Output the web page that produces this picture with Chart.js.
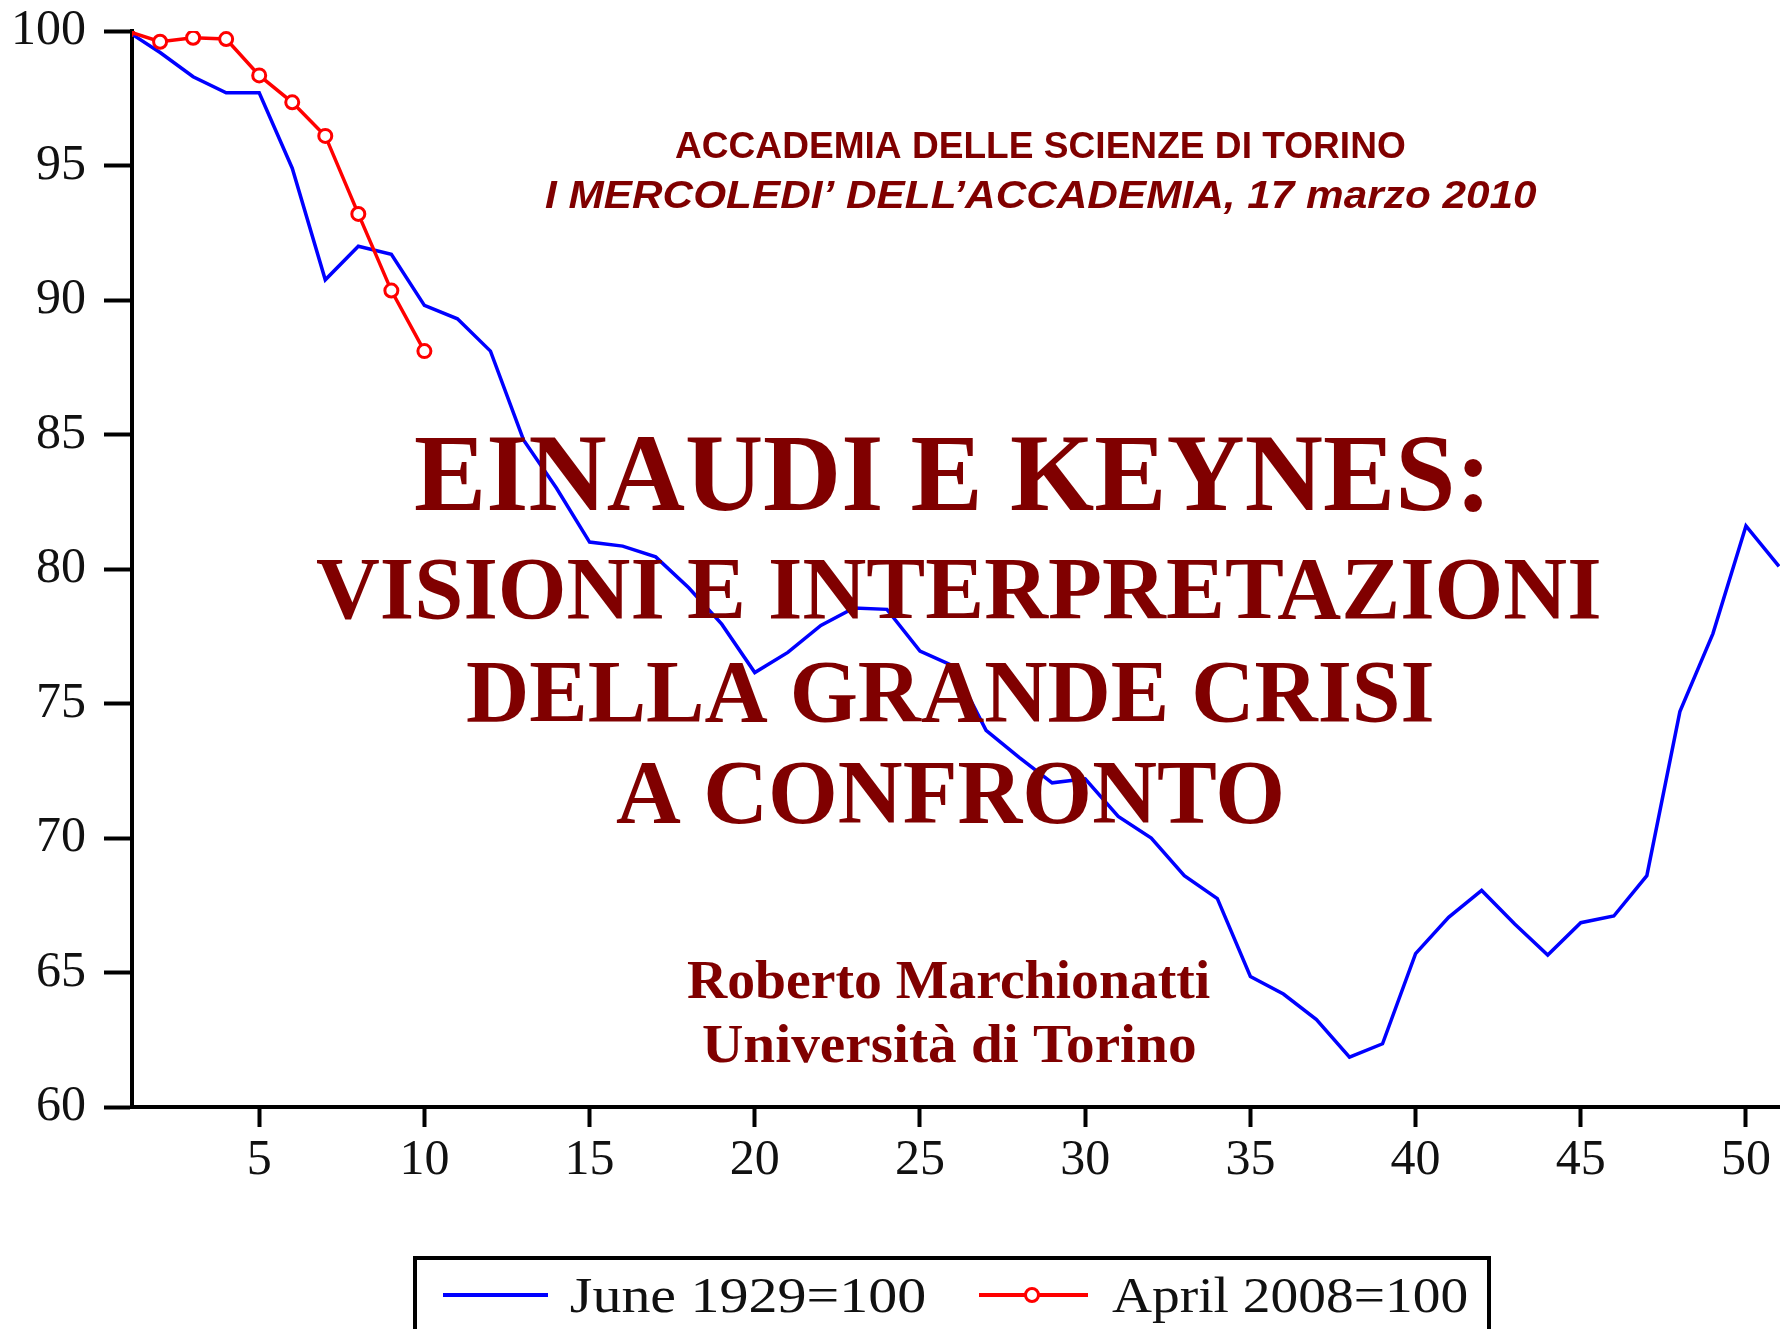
<!DOCTYPE html>
<html>
<head>
<meta charset="utf-8">
<title>Einaudi e Keynes</title>
<script src="https://cdn.jsdelivr.net/npm/chart.js@4.4.1/dist/chart.umd.min.js"></script>
<style>
  html, body { margin: 0; padding: 0; background: #fff; }
  #chart { display: block; }
</style>
</head>
<body>
<canvas id="chart" width="1780" height="1329"></canvas>
<script>
// mesi dal picco
const months = [1, 2, 3, 4, 5, 6, 7, 8, 9, 10, 11, 12, 13, 14, 15, 16, 17, 18, 19, 20,
    21, 22, 23, 24, 25, 26, 27, 28, 29, 30, 31, 32, 33, 34, 35, 36, 37, 38, 39, 40,
    41, 42, 43, 44, 45, 46, 47, 48, 49, 50, 51];
const june1929 = [100, 99.2, 98.3, 97.7, 97.7, 94.9, 90.75, 92.0, 91.7, 89.8,
    89.3, 88.1, 84.8, 83.0, 81.0, 80.85, 80.45, 79.3, 77.95, 76.15,
    76.9, 77.9, 78.55, 78.5, 76.95, 76.4, 74.0, 73.0, 72.05, 72.2,
    70.8, 70.0, 68.6, 67.75, 64.85, 64.2, 63.25, 61.85, 62.35, 65.7,
    67.05, 68.05, 66.8, 65.65, 66.85, 67.1, 68.6, 74.7, 77.6, 81.6, 80.1];
const april2008 = [100, 99.6, 99.75, 99.7, 98.35, 97.35, 96.1, 93.2, 90.35, 88.1];
const xTicks = [5, 10, 15, 20, 25, 30, 35, 40, 45, 50];
const seriesLabels = ['June 1929=100', 'April 2008=100'];

const MAROON = '#800000';
const BLUE = '#0000ff';
const RED = '#ff0000';

// testo della diapositiva: left/right = estremi dell'inchiostro, base = linea di base
const slideText = [
    { text: 'ACCADEMIA DELLE SCIENZE DI TORINO', font: 'bold 37px "Liberation Sans"', left: 675, right: 1405, base: 158 },
    { text: 'I MERCOLEDI\u2019 DELL\u2019ACCADEMIA, 17 marzo 2010', font: 'italic bold 39px "Liberation Sans"', left: 545, right: 1537, base: 208 },
    { text: 'EINAUDI E KEYNES:', font: 'bold 110px "Liberation Serif"', left: 415, right: 1482, base: 510 },
    { text: 'VISIONI E INTERPRETAZIONI', font: 'bold 89px "Liberation Serif"', left: 317, right: 1599, base: 618 },
    { text: 'DELLA GRANDE CRISI', font: 'bold 89px "Liberation Serif"', left: 467, right: 1432, base: 721 },
    { text: 'A CONFRONTO', font: 'bold 90px "Liberation Serif"', left: 616, right: 1281, base: 823 },
    { text: 'Roberto Marchionatti', font: 'bold 55px "Liberation Serif"', left: 687, right: 1210, base: 998 },
    { text: 'Università di Torino', font: 'bold 55px "Liberation Serif"', left: 703, right: 1195, base: 1062 }
];

function fitText(ctx, t) {
    ctx.font = t.font;
    const m = ctx.measureText(t.text);
    const ink = m.actualBoundingBoxLeft + m.actualBoundingBoxRight;
    const k = (t.right - t.left) / ink;
    ctx.save();
    ctx.translate(t.left, t.base);
    ctx.scale(k, 1);
    ctx.fillText(t.text, m.actualBoundingBoxLeft, 0);
    ctx.restore();
}

const slidePlugin = {
    id: 'slide',
    afterDraw(chart) {
        const ctx = chart.ctx;
        ctx.save();
        ctx.textAlign = 'left';
        ctx.textBaseline = 'alphabetic';
        ctx.fillStyle = MAROON;
        slideText.forEach(t => fitText(ctx, t));

        // legenda in basso, con il riquadro tagliato dal bordo
        ctx.strokeStyle = '#000';
        ctx.lineWidth = 4;
        ctx.strokeRect(415, 1258, 1074, 140);

        ctx.lineWidth = 4;
        ctx.strokeStyle = BLUE;
        ctx.beginPath(); ctx.moveTo(443, 1295); ctx.lineTo(548, 1295); ctx.stroke();
        ctx.strokeStyle = RED;
        ctx.beginPath(); ctx.moveTo(979, 1295); ctx.lineTo(1088, 1295); ctx.stroke();
        ctx.lineWidth = 3;
        ctx.fillStyle = '#fff';
        ctx.beginPath(); ctx.arc(1032, 1295, 6.5, 0, Math.PI * 2); ctx.fill(); ctx.stroke();

        ctx.fillStyle = '#111';
        fitText(ctx, { text: seriesLabels[0], font: '50px "Liberation Serif"', left: 571, right: 925, base: 1312 });
        fitText(ctx, { text: seriesLabels[1], font: '50px "Liberation Serif"', left: 1112, right: 1467, base: 1312 });
        ctx.restore();
    }
};

const tickFont = { family: 'Liberation Serif', size: 50 };

// niente margini automatici: l'area del grafico va da x=132 al bordo destro
function noPadding(s) {
    s.paddingTop = 0; s.paddingBottom = 0; s.paddingLeft = 0; s.paddingRight = 0;
}

new Chart(document.getElementById('chart'), {
    type: 'line',
    data: {
        datasets: [
            {
                label: seriesLabels[1],
                data: april2008.map((v, i) => ({ x: months[i], y: v })),
                borderColor: RED,
                borderWidth: 3.5,
                pointRadius: 6.5,
                pointBorderWidth: 3,
                pointBackgroundColor: '#fff',
                pointBorderColor: RED,
                tension: 0,
                order: 0
            },
            {
                label: seriesLabels[0],
                data: june1929.map((v, i) => ({ x: months[i], y: v })),
                borderColor: BLUE,
                borderWidth: 3.5,
                pointRadius: 0,
                tension: 0,
                order: 1
            }
        ]
    },
    options: {
        responsive: false,
        animation: false,
        layout: { autoPadding: false, padding: { top: 31, right: 0, left: 0, bottom: 0 } },
        plugins: { legend: { display: false }, tooltip: { enabled: false } },
        scales: {
            x: {
                type: 'linear',
                min: 1.15,
                max: 51.03,
                afterBuildTicks: s => { s.ticks = xTicks.map(v => ({ value: v })); },
                afterFit: s => { s.height = 222; noPadding(s); },
                border: { display: true, color: '#000', width: 4 },
                grid: { drawOnChartArea: false, drawTicks: true, tickLength: 20, tickWidth: 4, tickColor: '#000' },
                ticks: { color: '#111', font: tickFont, padding: 4, maxRotation: 0, autoSkip: false }
            },
            y: {
                min: 60,
                max: 100,
                afterFit: s => { s.width = 132; noPadding(s); },
                border: { display: true, color: '#000', width: 4 },
                grid: { drawOnChartArea: false, drawTicks: true, tickLength: 28, tickWidth: 4, tickColor: '#000' },
                ticks: { stepSize: 5, color: '#111', font: tickFont, padding: 18 }
            }
        }
    },
    plugins: [slidePlugin]
});
</script>
</body>
</html>
